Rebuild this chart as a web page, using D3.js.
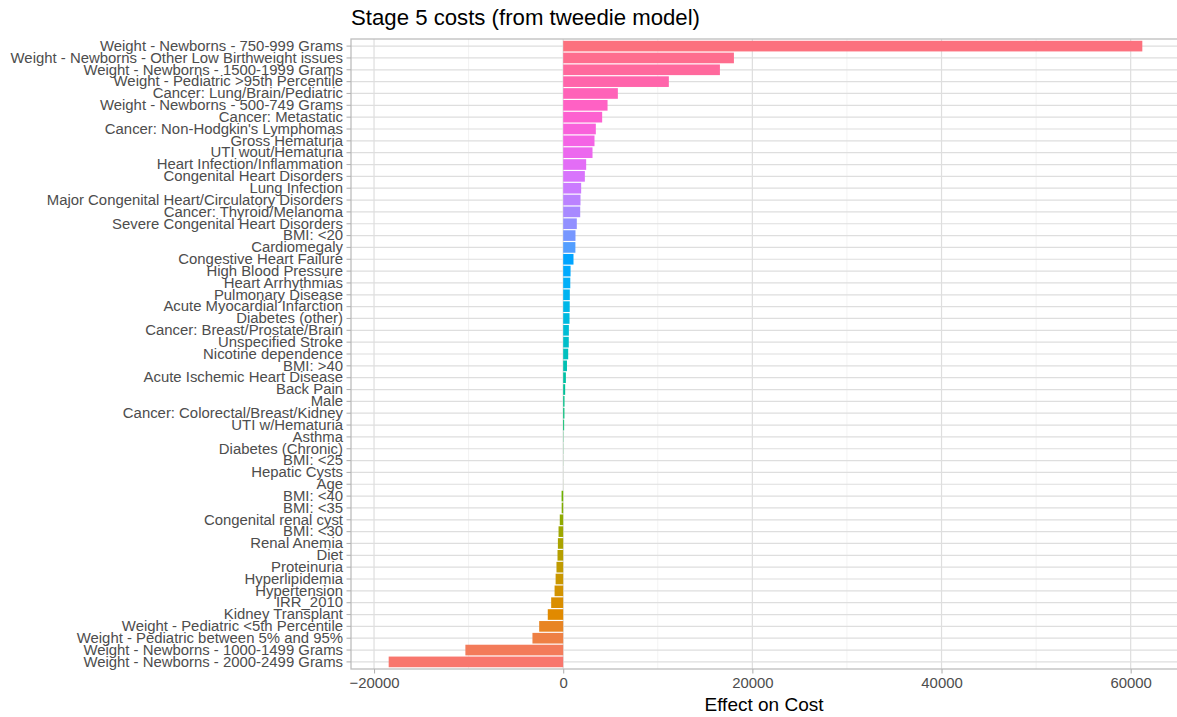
<!DOCTYPE html>
<html>
<head>
<meta charset="utf-8">
<script src="https://cdn.jsdelivr.net/npm/d3@7"></script>
<style>
  html, body { margin: 0; padding: 0; background: #fff; }
  svg { display: block; font-family: "Liberation Sans", Arial, sans-serif; }
</style>
</head>
<body>
<svg id="chart" width="1177" height="717"></svg>
<script>
// Categories listed from top of the chart to the bottom
const categories = [
  "Weight - Newborns - 750-999 Grams",
  "Weight - Newborns - Other Low Birthweight issues",
  "Weight - Newborns - 1500-1999 Grams",
  "Weight - Pediatric >95th Percentile",
  "Cancer: Lung/Brain/Pediatric",
  "Weight - Newborns - 500-749 Grams",
  "Cancer: Metastatic",
  "Cancer: Non-Hodgkin's Lymphomas",
  "Gross Hematuria",
  "UTI wout/Hematuria",
  "Heart Infection/Inflammation",
  "Congenital Heart Disorders",
  "Lung Infection",
  "Major Congenital Heart/Circulatory Disorders",
  "Cancer: Thyroid/Melanoma",
  "Severe Congenital Heart Disorders",
  "BMI: <20",
  "Cardiomegaly",
  "Congestive Heart Failure",
  "High Blood Pressure",
  "Heart Arrhythmias",
  "Pulmonary Disease",
  "Acute Myocardial Infarction",
  "Diabetes (other)",
  "Cancer: Breast/Prostate/Brain",
  "Unspecified Stroke",
  "Nicotine dependence",
  "BMI: >40",
  "Acute Ischemic Heart Disease",
  "Back Pain",
  "Male",
  "Cancer: Colorectal/Breast/Kidney",
  "UTI w/Hematuria",
  "Asthma",
  "Diabetes (Chronic)",
  "BMI: <25",
  "Hepatic Cysts",
  "Age",
  "BMI: <40",
  "BMI: <35",
  "Congenital renal cyst",
  "BMI: <30",
  "Renal Anemia",
  "Diet",
  "Proteinuria",
  "Hyperlipidemia",
  "Hypertension",
  "IRR_2010",
  "Kidney Transplant",
  "Weight - Pediatric <5th Percentile",
  "Weight - Pediatric between 5% and 95%",
  "Weight - Newborns - 1000-1499 Grams",
  "Weight - Newborns - 2000-2499 Grams"
];

// Effect on cost for each category, same order
const effects = [
  61230, 18050, 16570, 11170, 5780, 4690, 4120, 3450, 3310, 3100,
  2430, 2290, 1900, 1830, 1800, 1440, 1300, 1290, 1090, 780,
  750, 700, 690, 670, 600, 590, 530, 400, 285, 210,
  140, 130, 100, 25, 15, 8, 3, -5, -170, -160,
  -360, -490, -560, -600, -710, -800, -910, -1270, -1630, -2540,
  -3250, -10340, -18450
];

const xTicks = [-20000, 0, 20000, 40000, 60000];
const xMinorTicks = [-10000, 10000, 30000, 50000];

const title = "Stage 5 costs (from tweedie model)";
const xTitle = "Effect on Cost";

// R-style hcl() colour (polar CIE-Luv) -> hex
function hclLuv(h, c, l) {
  const XN = 95.047, YN = 100.0, ZN = 108.883;
  const un = 4 * XN / (XN + 15 * YN + 3 * ZN);
  const vn = 9 * YN / (XN + 15 * YN + 3 * ZN);
  const hr = h * Math.PI / 180;
  const U = c * Math.cos(hr), V = c * Math.sin(hr);
  if (l <= 0) return "#000000";
  const Y = YN * (l > 7.999592 ? Math.pow((l + 16) / 116, 3) : l / 903.3);
  const u = U / (13 * l) + un;
  const v = V / (13 * l) + vn;
  const X = 9.0 * Y * u / (4 * v);
  const Z = -X / 3 - 5 * Y + 3 * Y / v;
  const gam = t => t > 0.00304 ? 1.055 * Math.pow(t, 1 / 2.4) - 0.055 : 12.92 * t;
  const r = gam((3.240479 * X - 1.537150 * Y - 0.498535 * Z) / YN);
  const g = gam((-0.969256 * X + 1.875992 * Y + 0.041556 * Z) / YN);
  const b = gam((0.055648 * X - 0.204043 * Y + 1.057311 * Z) / YN);
  const clip = t => Math.max(0, Math.min(255, Math.round(t * 255)));
  return d3.rgb(clip(r), clip(g), clip(b)).formatHex();
}

// Discrete hue palette: first level (bottom bar) starts at hue 15
const n = categories.length;
const palette = d3.range(n).map(i => hclLuv(15 + i * 360 / n, 100, 65));
// bottom-most category is level 1
const colorOf = i => palette[n - 1 - i];

const svg = d3.select("#chart");

const panel = { left: 351, right: 1180, top: 39, bottom: 669 };

// 5% expansion of the data range on the value axis
const ext = d3.extent(effects);
const pad = (ext[1] - ext[0]) * 0.05;
const x = d3.scaleLinear()
  .domain([ext[0] - pad, ext[1] + pad])
  .range([panel.left, panel.right]);

// discrete axis: 0.6 unit expansion on each side, bars 0.9 of a unit
const y = d3.scaleBand()
  .domain(categories)
  .range([panel.top, panel.bottom])
  .paddingInner(0.1)
  .paddingOuter(0.15);

const yc = d => y(d) + y.bandwidth() / 2;

const g = svg.append("g");

// minor vertical gridlines
g.selectAll("line.minor").data(xMinorTicks).join("line")
  .attr("x1", d => x(d)).attr("x2", d => x(d))
  .attr("y1", panel.top).attr("y2", panel.bottom)
  .attr("stroke", "#EDEDED").attr("stroke-width", 0.7);

// major vertical gridlines
g.selectAll("line.majorx").data(xTicks).join("line")
  .attr("x1", d => x(d)).attr("x2", d => x(d))
  .attr("y1", panel.top).attr("y2", panel.bottom)
  .attr("stroke", "#DEDEDE").attr("stroke-width", 1.2);

// horizontal gridlines, one per category
g.selectAll("line.majory").data(categories).join("line")
  .attr("x1", panel.left).attr("x2", panel.right)
  .attr("y1", d => yc(d)).attr("y2", d => yc(d))
  .attr("stroke", "#DEDEDE").attr("stroke-width", 1.2);

// bars
g.selectAll("rect.bar").data(categories).join("rect")
  .attr("x", (d, i) => Math.min(x(0), x(effects[i])))
  .attr("width", (d, i) => Math.abs(x(effects[i]) - x(0)))
  .attr("y", d => y(d))
  .attr("height", y.bandwidth())
  .attr("fill", (d, i) => colorOf(i));

// panel border
g.append("rect")
  .attr("x", panel.left).attr("y", panel.top)
  .attr("width", panel.right - panel.left)
  .attr("height", panel.bottom - panel.top)
  .attr("fill", "none").attr("stroke", "#BDBDBD").attr("stroke-width", 1.3);

// y axis
const yAxis = d3.axisLeft(y).tickSize(4.5).tickPadding(3.5);
const ya = svg.append("g").attr("transform", `translate(${panel.left},0)`).call(yAxis);
ya.select(".domain").remove();
ya.selectAll(".tick line").attr("stroke", "#B3B3B3").attr("stroke-width", 1.1);
ya.selectAll(".tick text")
  .attr("fill", "#4D4D4D")
  .style("font-size", "14.9px")
  .style("font-family", "'Liberation Sans', Arial, sans-serif");

// x axis
const xAxis = d3.axisBottom(x).tickValues(xTicks).tickFormat(d3.format("d"))
  .tickSize(4.5).tickPadding(4);
const xa = svg.append("g").attr("transform", `translate(0,${panel.bottom})`).call(xAxis);
xa.select(".domain").remove();
xa.selectAll(".tick line").attr("stroke", "#B3B3B3").attr("stroke-width", 1.1);
xa.selectAll(".tick text")
  .attr("fill", "#4D4D4D")
  .style("font-size", "14.9px")
  .style("font-family", "'Liberation Sans', Arial, sans-serif");

// titles
svg.append("text")
  .attr("x", 351).attr("y", 24.5)
  .attr("fill", "#000")
  .style("font-size", "22.2px")
  .text(title);

svg.append("text")
  .attr("x", (351 + 1177) / 2).attr("y", 710.5)
  .attr("text-anchor", "middle")
  .attr("fill", "#000")
  .style("font-size", "19px")
  .text(xTitle);
</script>
</body>
</html>
